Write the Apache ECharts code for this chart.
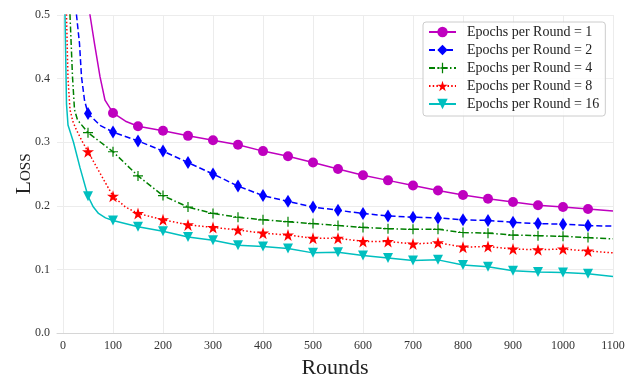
<!DOCTYPE html>
<html>
<head>
<meta charset="utf-8">
<script src="https://cdn.jsdelivr.net/npm/echarts@6/dist/echarts.min.js"></script>
<style>html,body{margin:0;padding:0;background:#fff}#c{width:637px;height:377px}</style>
</head>
<body>
<div id="c"></div>
<script>
const seriesNames = ['Epochs per Round = 1','Epochs per Round = 2','Epochs per Round = 4','Epochs per Round = 8','Epochs per Round = 16'];
const xTicks = [0,100,200,300,400,500,600,700,800,900,1000,1100];

const rounds1 = [40,54,63,74,84,100,125,150,200,250,300,350,400,450,500,550,600,650,700,750,800,850,900,950,1000,1050,1100];
const loss1 = [0.60,0.50,0.455,0.403,0.366,0.346,0.333,0.325,0.318,0.310,0.303,0.296,0.286,0.278,0.268,0.258,0.248,0.240,0.232,0.224,0.217,0.211,0.206,0.201,0.198,0.195,0.192];

const rounds2 = [20,27,33,37,43,50,75,100,150,200,250,300,350,400,450,500,550,600,650,700,750,800,850,900,950,1000,1050,1100];
const loss2 = [0.60,0.50,0.455,0.403,0.366,0.345,0.326,0.316,0.302,0.286,0.268,0.250,0.231,0.216,0.207,0.198,0.193,0.188,0.184,0.182,0.181,0.178,0.177,0.174,0.172,0.171,0.169,0.168];

const rounds4 = [10,14,19,23,29,50,100,150,200,250,300,350,400,450,500,550,600,650,700,750,800,850,900,950,1000,1050,1100];
const loss4 = [0.58,0.50,0.403,0.351,0.335,0.315,0.285,0.247,0.216,0.198,0.188,0.182,0.178,0.175,0.172,0.169,0.166,0.164,0.163,0.163,0.158,0.157,0.154,0.153,0.152,0.150,0.148];

const rounds8 = [4,7,10,14,20,27,38,50,100,125,150,200,250,300,350,400,450,500,550,600,650,700,750,800,850,900,950,1000,1050,1100];
const loss8 = [0.60,0.50,0.40,0.351,0.332,0.319,0.302,0.285,0.215,0.198,0.188,0.178,0.170,0.166,0.162,0.157,0.154,0.149,0.149,0.144,0.144,0.140,0.142,0.135,0.136,0.132,0.131,0.132,0.129,0.126];

const rounds16 = [2,4,7,10,21,34,50,60,71,85,100,150,200,250,300,350,400,450,500,550,600,650,700,750,800,850,900,950,1000,1050,1100];
const loss16 = [0.60,0.50,0.36,0.327,0.300,0.260,0.215,0.199,0.188,0.181,0.177,0.167,0.160,0.151,0.146,0.138,0.136,0.133,0.126,0.127,0.122,0.118,0.114,0.115,0.107,0.104,0.098,0.096,0.095,0.093,0.089];

const markerEvery = 50;
const lastRound = 1100;

const STAR = 'path://M50,0 L61.8,35.4 L100,35.4 L69.1,57.3 L80.9,95.1 L50,73.2 L19.1,95.1 L30.9,57.3 L0,35.4 L38.2,35.4 Z';
const PLUS = 'path://M44,0 H56 V44 H100 V56 H56 V100 H44 V56 H0 V44 H44 Z';

const styles = [
  {color:'#BF00BF', type:'solid', symbol:'circle', size:10, rotate:0},
  {color:'#0000FF', type:[6,3], symbol:'diamond', size:[8,13], rotate:0},
  {color:'#008000', type:[6,2.5,1.5,2.5], symbol:PLUS, size:10, rotate:0},
  {color:'#FF0000', type:[1.5,2.2], symbol:STAR, size:12, rotate:0},
  {color:'#00BFBF', type:'solid', symbol:'triangle', size:10, rotate:180}
];
const allRounds = [rounds1,rounds2,rounds4,rounds8,rounds16];
const allLoss = [loss1,loss2,loss4,loss8,loss16];

const font = 'Liberation Serif';
const series = seriesNames.map((name,i)=>{
  const st = styles[i];
  return {
    name, type:'line', smooth:false,
    symbol: st.symbol, symbolSize: st.size, symbolRotate: st.rotate,
    showAllSymbol:true,
    itemStyle:{color:st.color},
    lineStyle:{color:st.color, width:1.5, type:st.type},
    emphasis:{disabled:true},
    z: 10 - i,
    data: allRounds[i].map((r,k)=>{
      const marked = r % markerEvery === 0 && r < lastRound;
      return marked ? [r, allLoss[i][k]] : {value:[r, allLoss[i][k]], symbol:'none'};
    })
  };
});

const chart = echarts.init(document.getElementById('c'), null, {renderer:'canvas'});
chart.setOption({
  animation:false,
  backgroundColor:'#fff',
  grid:{left:57, right:24, top:15, bottom:44, containLabel:false, outerBoundsMode:'none'},
  legend:{
    orient:'vertical', left:423, top:22,
    padding:[3,6,5,5], itemGap:4, itemWidth:27, itemHeight:13,
    backgroundColor:'rgba(255,255,255,0.85)', borderColor:'#cccccc', borderWidth:1, borderRadius:3,
    textStyle:{fontFamily:font, fontSize:14, color:'#222', lineHeight:14, padding:[0,0,0,6]},
    data: seriesNames
  },
  xAxis:{
    type:'value', min:-12, max:1100,
    name:'Rounds', nameLocation:'middle', nameGap:24, nameMoveOverlap:false,
    nameTextStyle:{fontFamily:font, fontSize:22, color:'#222'},
    axisLine:{show:true, lineStyle:{color:'#d6d6d6', width:1}},
    axisTick:{show:false, customValues:xTicks},
    axisLabel:{customValues:xTicks, fontFamily:font, fontSize:12, color:'#333', margin:7, formatter:v=>String(v)},
    splitLine:{show:true, lineStyle:{color:'#ececec', width:1}}
  },
  yAxis:{
    type:'value', min:0, max:0.5, interval:0.1,
    name:'Loss', nameLocation:'middle', nameGap:22, nameRotate:90, nameMoveOverlap:false,
    nameTextStyle:{fontFamily:font, fontSize:22, color:'#222', fontStyle:'small-caps'},
    axisLine:{show:false},
    axisTick:{show:false},
    axisLabel:{fontFamily:font, fontSize:12, color:'#333', margin:7, formatter:v=>v.toFixed(1)},
    splitLine:{show:true, lineStyle:{color:'#ececec', width:1}}
  },
  series
});
</script>
</body>
</html>
